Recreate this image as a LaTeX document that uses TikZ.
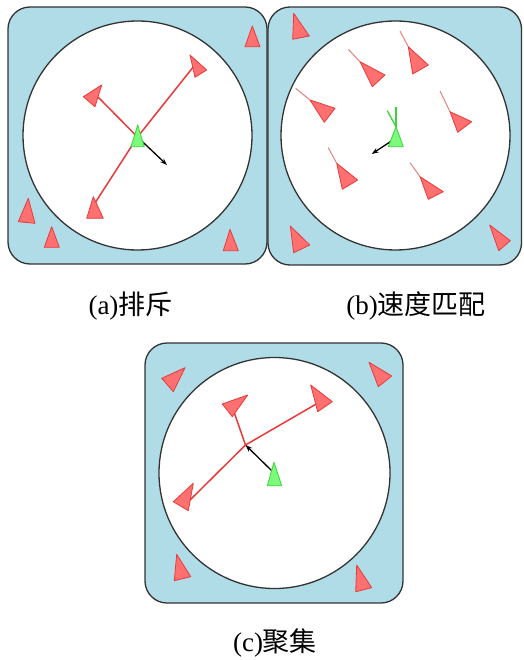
\documentclass[tikz,border=0pt]{standalone}
\usepackage{fontspec}
\setmainfont{Liberation Serif}
\newfontfamily\cjk{Noto Sans CJK SC}
\usepackage{tikz}
\usetikzlibrary{arrows.meta, positioning, calc}

\definecolor{panelblue}{RGB}{176,220,231}
\definecolor{boidred}{RGB}{255,112,112}
\definecolor{edgered}{RGB}{232,58,58}
\definecolor{tailred}{RGB}{228,130,130}
\definecolor{boidgreen}{RGB}{124,250,124}
\definecolor{edgegreen}{RGB}{56,214,56}

\tikzset{
    panel/.style={draw=black!80, line width=1.3pt, fill=panelblue, rounded corners=22pt, inner sep=0pt},
    ring/.style={draw=black!80, line width=1.3pt, fill=white, circle, inner sep=0pt},
    redboid/.style={draw=edgered, line width=0.8pt, fill=boidred, line join=round},
    greenboid/.style={draw=edgegreen, line width=0.8pt, fill=boidgreen, line join=round},
    link/.style={draw=edgered, line width=1.5pt},
    tail/.style={draw=tailred, line width=1pt},
    gtail/.style={draw=edgegreen, line width=1.3pt},
    steer/.style={-{Stealth[length=7pt, width=5pt]}, draw=black, line width=1.3pt},
    caption/.style={anchor=base, font=\fontsize{27}{30}\selectfont}
}

\begin{document}
\begin{tikzpicture}[%
    >=stealth,          % 箭头样式
    x=1pt, y=-1pt       % 按像素坐标
]
    \useasboundingbox (0,0) rectangle (523,660);

    % ==========================================
    % 1. 面板与圆形区域
    % ==========================================
    \node[panel, minimum width=259pt, minimum height=257pt] (pana) at (137.5,135.5) {};
    \node[panel, minimum width=253.5pt, minimum height=258pt] (panb) at (394.75,136) {};
    \node[panel, minimum width=258pt, minimum height=260pt] (panc) at (274,473) {};
    \node[ring, minimum size=229pt] (ringa) at (137.5,135.5) {};
    \node[ring, minimum size=229pt] (ringb) at (395.5,135.5) {};
    \node[ring, minimum size=231pt] (ringc) at (274.5,473) {};

    % ==========================================
    % 2. (a) 排斥
    % ==========================================
    \coordinate (ga) at (137.5,137);
    \coordinate (aur) at (194,66);
    \coordinate (aul) at (98,97);
    \coordinate (abl) at (95,203);
    \coordinate (va) at (167,165);
    % 连线
    \draw[link] (ga) -- (aur);
    \draw[link] (ga) -- (aul);
    \draw[link] (ga) -- (abl);
    \draw[steer] (ga) -- (va);
    % 个体
    \draw[redboid] (190,55) -- (206.7,70) -- (195,77.3) -- cycle;
    \draw[redboid] (83.3,96.7) -- (101.7,85) -- (95,106.7) -- cycle;
    \draw[redboid] (93.3,196.7) -- (86.7,218.3) -- (103.3,218.3) -- cycle;
    \draw[greenboid] (137.7,125) -- (131,146.7) -- (144.3,146.7) -- cycle;
    % 圆外个体
    \draw[redboid] (252.3,26) -- (245,46.7) -- (260,46.7) -- cycle;
    \draw[redboid] (28.3,198.3) -- (18.3,221.7) -- (35,223.3) -- cycle;
    \draw[redboid] (51.7,226.7) -- (44.3,247.3) -- (59.3,247.3) -- cycle;
    \draw[redboid] (230,229.3) -- (223.3,250.7) -- (238.3,250.7) -- cycle;

    % ==========================================
    % 3. (b) 速度匹配
    % ==========================================
    \coordinate (gb) at (396,138);
    \coordinate (gbtip) at (396,126.7);
    \coordinate (vb) at (371.7,154);
    % 尾迹
    \draw[tail] (400,31) -- (408.3,46.7);
    \draw[tail] (348.3,49.3) -- (360,61.7);
    \draw[tail] (295.7,88.3) -- (310,100);
    \draw[tail] (440,91) -- (450,111.7);
    \draw[tail] (328.3,147.7) -- (336.7,163.3);
    \draw[tail] (410,162.7) -- (420,176.7);
    \draw[gtail] (396,106.7) -- (gbtip);
    \draw[gtail] (387.3,110.7) -- (gbtip);
    \draw[steer] (gb) -- (vb);
    % 个体
    \draw[redboid] (408.3,46.7) -- (428.3,65) -- (412.7,74) -- cycle;
    \draw[redboid] (360,61.7) -- (385,75) -- (372.3,86.7) -- cycle;
    \draw[redboid] (310,100) -- (335,108.3) -- (324.3,122.3) -- cycle;
    \draw[redboid] (450,111.7) -- (471.7,121.7) -- (457.7,132.3) -- cycle;
    \draw[redboid] (336.7,163.3) -- (357.7,180) -- (342.3,189.3) -- cycle;
    \draw[redboid] (420,176.7) -- (443.3,191.7) -- (428.3,199.3) -- cycle;
    \draw[greenboid] (gbtip) -- (388.3,146.7) -- (403.3,146.7) -- cycle;
    % 圆外个体
    \draw[redboid] (293.7,13.3) -- (309.3,36) -- (292.7,39.3) -- cycle;
    \draw[redboid] (290.3,226) -- (309.7,245) -- (293.7,252.7) -- cycle;
    \draw[redboid] (489.7,225) -- (510.3,240.7) -- (498.7,250.7) -- cycle;

    % ==========================================
    % 4. (c) 聚集
    % ==========================================
    \coordinate (mc) at (245.5,445);
    \coordinate (gc) at (272,471);
    \coordinate (cul) at (234,412);
    \coordinate (cur) at (318,403);
    \coordinate (cll) at (189,501);
    % 连线
    \draw[link] (mc) -- (cul);
    \draw[link] (mc) -- (cur);
    \draw[link] (mc) -- (cll);
    \draw[steer] (gc) -- (mc);
    % 个体
    \draw[redboid] (222.3,404) -- (247.7,395) -- (232.3,416.7) -- cycle;
    \draw[redboid] (310.7,385) -- (332.3,401.7) -- (317.7,411.7) -- cycle;
    \draw[redboid] (173.3,501.7) -- (193.3,483.3) -- (188.3,510.7) -- cycle;
    \draw[greenboid] (274,462.3) -- (267.3,485.7) -- (281.7,485.7) -- cycle;
    % 圆外个体
    \draw[redboid] (161.7,378.3) -- (185,367.7) -- (173.3,391.7) -- cycle;
    \draw[redboid] (369,362.3) -- (391.7,376) -- (378.3,386.7) -- cycle;
    \draw[redboid] (176.7,554.3) -- (190.7,576.7) -- (174.3,580.7) -- cycle;
    \draw[redboid] (356.7,565) -- (371.7,587.7) -- (355.7,591.7) -- cycle;

    % ==========================================
    % 5. 标题
    % ==========================================
    \node[caption] (capa) at (130.5,314) {(a){\cjk 排斥}};
    \node[caption] (capb) at (416,314) {(b){\cjk 速度匹配}};
    \node[caption] (capc) at (275,651) {(c){\cjk 聚集}};

\end{tikzpicture}
\end{document}
